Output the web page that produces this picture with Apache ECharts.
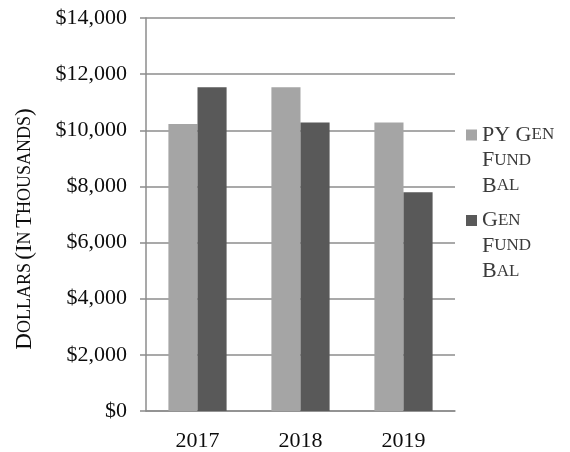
<!DOCTYPE html>
<html><head><meta charset="utf-8">
<script src="https://cdn.jsdelivr.net/npm/echarts@6/dist/echarts.min.js"></script>
<style>html,body{margin:0;padding:0;background:#fff;}#c{width:570px;height:452px;}</style>
</head><body><div id="c"></div>
<script>
var categories = ['2017', '2018', '2019'];
var pyGenFundBal = [10220, 11530, 10280];
var genFundBal = [11530, 10280, 7790];
var seriesNames = ['PY Gen Fund Bal', 'Gen Fund Bal'];
var yTicks = { min: 0, max: 14000, interval: 2000 };

var FONT = '"Liberation Serif", "Times New Roman", serif';
var LH = 25.5;
var legendRich = {
  b: { fontFamily: FONT, fontSize: 22, color: '#3a3a3a', lineHeight: LH },
  s: { fontFamily: FONT, fontSize: 17, color: '#3a3a3a', lineHeight: LH }
};
var legendText = {
  'PY Gen Fund Bal': '{b| }\n{b| }\n{b|PY G}{s|EN}\n{b|F}{s|UND}\n{b|B}{s|AL}',
  'Gen Fund Bal': '{b| }\n{b| }\n{b|G}{s|EN}\n{b|F}{s|UND}\n{b|B}{s|AL}'
};

var chart = echarts.init(document.getElementById('c'));
chart.setOption({
  animation: false,
  grid: { left: 146, right: 115, top: 18, bottom: 35, containLabel: false },
  xAxis: {
    type: 'category',
    data: categories,
    axisLine: { show: true, lineStyle: { color: '#8c8c8c', width: 1.5 } },
    axisTick: { show: false },
    axisLabel: { fontFamily: FONT, fontSize: 22, color: '#0d0d0d', margin: 19 }
  },
  yAxis: {
    type: 'value',
    min: yTicks.min, max: yTicks.max, interval: yTicks.interval,
    axisLine: { show: true, lineStyle: { color: '#8c8c8c', width: 1.5 } },
    axisTick: { show: true, length: 6, lineStyle: { color: '#8c8c8c', width: 1.5 } },
    splitLine: { show: true, lineStyle: { color: '#8c8c8c', width: 1.5 } },
    axisLabel: {
      fontFamily: FONT, fontSize: 22, color: '#0d0d0d', margin: 19,
      formatter: function (v) { return '$' + v.toLocaleString('en-US'); }
    }
  },
  legend: {
    orient: 'vertical',
    left: 466, top: 73, padding: 0,
    itemWidth: 11, itemHeight: 11, itemGap: -38.5,
    icon: 'rect',
    data: seriesNames,
    formatter: function (n) { return legendText[n]; },
    textStyle: { rich: legendRich },
    selectedMode: false
  },
  graphic: [{
    type: 'text',
    x: 25, y: 229,
    rotation: Math.PI / 2,
    style: {
      text: '{b|D}{s|OLLARS} {b|(I}{s|N} {b|T}{s|HOUSANDS}{b|)}',
      align: 'center', verticalAlign: 'middle',
      rich: {
        b: { fontFamily: FONT, fontSize: 23, fill: '#0d0d0d' },
        s: { fontFamily: FONT, fontSize: 18, fill: '#0d0d0d' }
      }
    }
  }],
  series: [
    { name: seriesNames[0], type: 'bar', data: pyGenFundBal, barGap: '0%', barCategoryGap: '43.5%',
      itemStyle: { color: '#a5a5a5' } },
    { name: seriesNames[1], type: 'bar', data: genFundBal, barGap: '0%', barCategoryGap: '43.5%',
      itemStyle: { color: '#595959' } }
  ]
});
</script></body></html>
